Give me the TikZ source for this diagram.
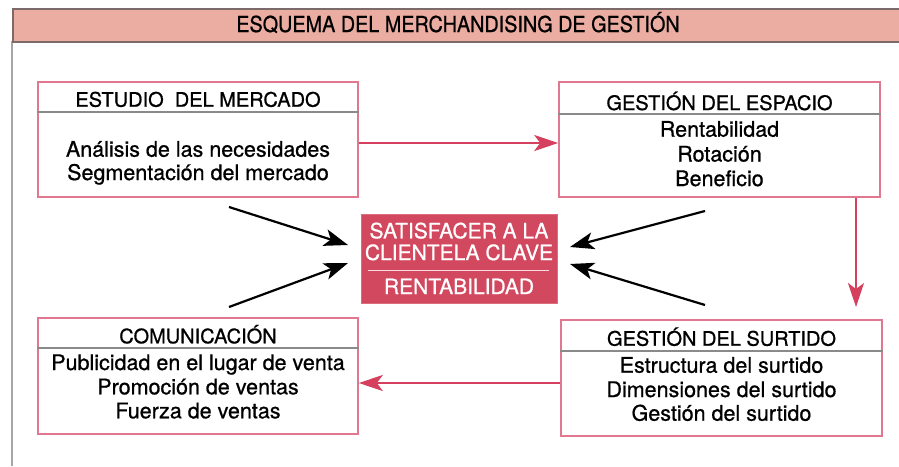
\documentclass[tikz,border=0pt]{standalone}
\usepackage{fontspec}
\usepackage{graphicx}
\setmainfont{TeX Gyre Heros}[FakeBold=0.8]
\usetikzlibrary{arrows.meta}
\definecolor{hdrfill}{HTML}{EBACA2}
\definecolor{hdrline}{HTML}{7A6A6A}
\definecolor{boxred}{HTML}{E27890}
\definecolor{arrred}{HTML}{D4405E}
\definecolor{centfill}{HTML}{D2485F}
\definecolor{sepgray}{HTML}{8A8A8A}
\begin{document}
\begin{tikzpicture}[x=1pt,y=-1pt,
  box/.style={draw=boxred, line width=1.6pt, fill=white, inner sep=0pt},
  ttl/.style={anchor=base, font=\fontsize{20}{24}\selectfont, text=black},
  bodytxt/.style={anchor=base, font=\fontsize{21.5}{24}\selectfont, text=black},
  sep/.style={draw=sepgray, line width=1.5pt},
  redarr/.style={draw=arrred, line width=2pt, -{Stealth[length=24pt,width=16pt,inset=6pt]}},
  blkarr/.style={draw=black, line width=2.2pt, -{Stealth[length=24pt,width=17pt,inset=6pt]}},
  ctxt/.style={anchor=base, font=\fontsize{21}{24}\selectfont, text=white}
]
\useasboundingbox (0,0) rectangle (899,466);
\fill[white] (0,0) rectangle (899,466);
% frame
\draw[draw=black!35, line width=1.5pt] (12,41) -- (12,466);
\node[draw=hdrline, fill=hdrfill, line width=1.5pt, minimum width=895pt, minimum height=33pt, inner sep=0pt, anchor=north west] (hdr) at (12,8) {};
\node[anchor=base, font=\fontsize{22}{24}\selectfont, text=black] (hdrtxt) at (458,32) {\scalebox{0.9}[1]{ESQUEMA DEL MERCHANDISING DE GESTIÓN}};

% boxes
\node[box, minimum width=320pt, minimum height=115pt] (est) at (198,139.5) {};
\node[box, minimum width=321pt, minimum height=115pt] (esp) at (719.5,139.5) {};
\node[box, minimum width=320pt, minimum height=116pt] (com) at (198,376) {};
\node[box, minimum width=321pt, minimum height=116pt] (sur) at (721.5,378) {};
\node[fill=centfill, draw=centfill!80!white, line width=0.8pt, minimum width=196pt, minimum height=89pt, inner sep=0pt] (cen) at (459,258.5) {};

% separators
\draw[sep] (est.west |- 0,112) -- (est.east |- 0,112);
\draw[sep] (esp.west |- 0,114) -- (esp.east |- 0,114);
\draw[sep] (com.west |- 0,348) -- (com.east |- 0,348);
\draw[sep] (sur.west |- 0,351) -- (sur.east |- 0,351);
\draw[draw=white!80!centfill, line width=0.8pt] (368,270) -- (549,270);

% titles
\node[ttl] (estt) at (198,106.7) {ESTUDIO\ \ DEL MERCADO};
\node[ttl] (espt) at (719.5,110) {GESTIÓN DEL ESPACIO};
\node[ttl] (comt) at (198,343.3) {COMUNICACIÓN};
\node[ttl] (surt) at (721.5,345.7) {GESTIÓN DEL SURTIDO};

% bodies
\node[bodytxt] (est1) at (198,156.7) {Análisis de las necesidades};
\node[bodytxt] (est2) at (198,180) {Segmentación del mercado};
\node[bodytxt] (esp1) at (719.5,136.7) {Rentabilidad};
\node[bodytxt] (esp2) at (719.5,161.5) {Rotación};
\node[bodytxt] (esp3) at (719.5,186) {Beneficio};
\node[bodytxt] (com1) at (198,370) {Publicidad en el lugar de venta};
\node[bodytxt] (com2) at (198,394.3) {Promoción de ventas};
\node[bodytxt] (com3) at (198,418.3) {Fuerza de ventas};
\node[bodytxt] (sur1) at (721.5,372.7) {Estructura del surtido};
\node[bodytxt] (sur2) at (721.5,397) {Dimensiones del surtido};
\node[bodytxt] (sur3) at (721.5,420.7) {Gestión del surtido};

% center text
\node[ctxt] (c1) at (459,238.3) {SATISFACER A LA};
\node[ctxt] (c2) at (459,260) {CLIENTELA CLAVE};
\node[ctxt] (c3) at (459,294) {RENTABILIDAD};

% red arrows
\draw[redarr] ([yshift=-3.5pt]est.east) -- ([yshift=-3.5pt]esp.west);
\coordinate (vtip) at (856,307);
\draw[redarr] ([xshift=136.5pt]esp.south) -- (vtip);
\draw[redarr] ([yshift=-5pt]sur.west) -- ([yshift=-7pt]com.east);

% black arrows
\coordinate (a1s) at (229,207);
\coordinate (a1e) at (348,245);
\coordinate (a2s) at (229,307);
\coordinate (a2e) at (348,263);
\coordinate (a3s) at (705,211);
\coordinate (a3e) at (570,247);
\coordinate (a4s) at (705,305);
\coordinate (a4e) at (570,264);
\draw[blkarr] (a1s) -- (a1e);
\draw[blkarr] (a2s) -- (a2e);
\draw[blkarr] (a3s) -- (a3e);
\draw[blkarr] (a4s) -- (a4e);
\end{tikzpicture}
\end{document}
